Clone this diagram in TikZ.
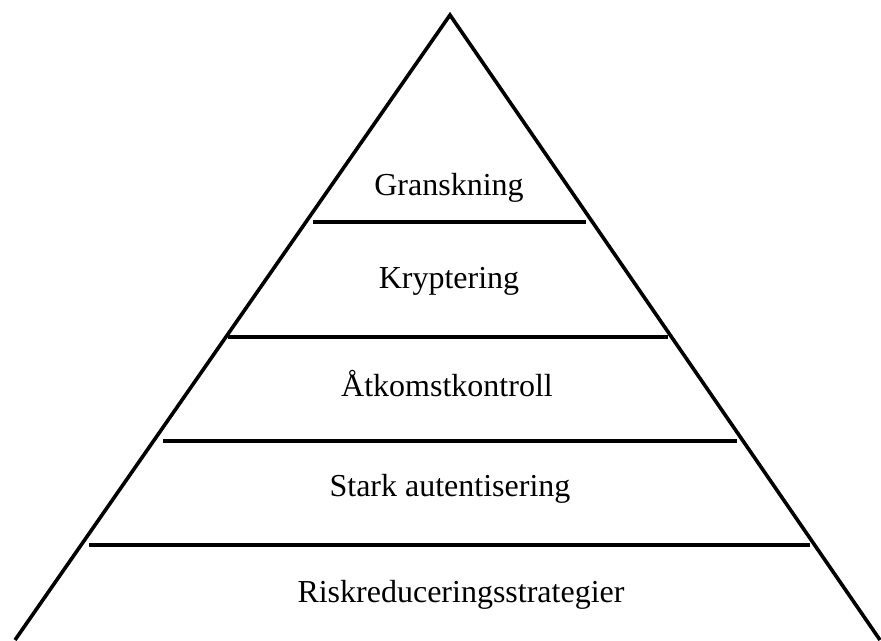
\documentclass[tikz,border=0pt]{standalone}
\usepackage{fontspec}
\setmainfont{Liberation Serif}
\begin{document}
\begin{tikzpicture}[x=0.75pt,y=-0.75pt,
  edge/.style={line width=2.7pt, line cap=butt},
  level/.style={line width=3.6pt},
  lbl/.style={anchor=base, inner sep=0pt, font=\fontsize{24}{28}\selectfont}]
\useasboundingbox (0,0) rectangle (881,640);
\begin{scope}
\clip (0,0) rectangle (881,640);
\coordinate (apex) at (450,15);
\coordinate (bl) at (15,640);
\coordinate (br) at (880,640);
\draw[edge, line join=miter] (bl) -- (apex) -- (br);
\end{scope}
\draw[level] (313,222) -- (586,222);
\draw[level] (228,337) -- (668,337);
\draw[level] (163,441) -- (737,441);
\draw[level] (89,545) -- (810,545);
\node[lbl] (g) at (449,195) {Granskning};
\node[lbl] (k) at (449,288) {Kryptering};
\node[lbl] (a) at (447,396) {Åtkomstkontroll};
\node[lbl] (s) at (450,496) {Stark autentisering};
\node[lbl] (r) at (461,602) {Riskreduceringsstrategier};
\end{tikzpicture}
\end{document}
